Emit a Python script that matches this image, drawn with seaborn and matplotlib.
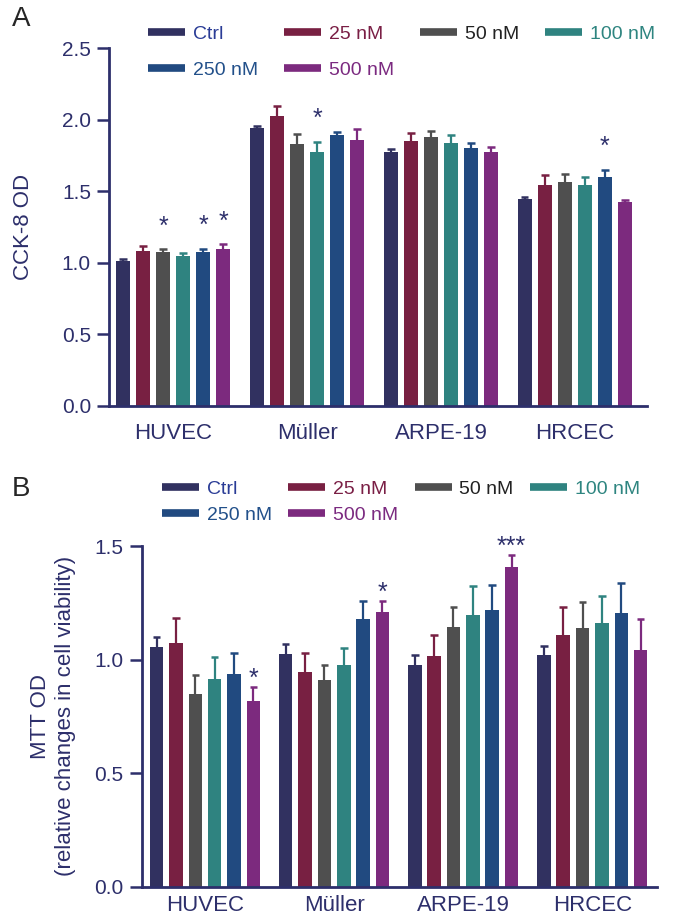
import matplotlib
matplotlib.use("Agg")
import matplotlib.pyplot as plt
import pandas as pd
import seaborn as sns
from matplotlib.lines import Line2D

# Data
cells = ["HUVEC", "Müller", "ARPE-19", "HRCEC"]
concs = ["Ctrl", "25 nM", "50 nM", "100 nM", "250 nM", "500 nM"]

# Panel A: CCK-8 OD (mean, upper SD) per cell line, ordered as concs
cck8_mean = [
    [1.014, 1.084, 1.077, 1.049, 1.077, 1.100],
    [1.942, 2.028, 1.830, 1.778, 1.893, 1.862],
    [1.774, 1.855, 1.879, 1.841, 1.806, 1.774],
    [1.445, 1.548, 1.566, 1.548, 1.599, 1.427],
]
cck8_err = [
    [0.016, 0.036, 0.019, 0.019, 0.021, 0.030],
    [0.018, 0.070, 0.070, 0.068, 0.025, 0.073],
    [0.026, 0.052, 0.046, 0.056, 0.031, 0.035],
    [0.019, 0.065, 0.056, 0.056, 0.053, 0.011],
]
cck8_sig = [
    ["", "", "*", "", "*", "*"],
    ["", "", "", "*", "", ""],
    ["", "", "", "", "", ""],
    ["", "", "", "", "*", ""],
]

# Panel B: MTT OD
mtt_mean = [
    [1.055, 1.075, 0.849, 0.914, 0.937, 0.818],
    [1.025, 0.944, 0.910, 0.978, 1.179, 1.211],
    [0.977, 1.016, 1.145, 1.197, 1.218, 1.408],
    [1.019, 1.110, 1.140, 1.159, 1.204, 1.044],
]
mtt_err = [
    [0.044, 0.107, 0.084, 0.099, 0.091, 0.063],
    [0.044, 0.084, 0.065, 0.074, 0.081, 0.048],
    [0.042, 0.090, 0.088, 0.125, 0.111, 0.053],
    [0.040, 0.121, 0.113, 0.120, 0.131, 0.135],
]
mtt_sig = [
    ["", "", "", "", "", "*"],
    ["", "", "", "", "", "*"],
    ["", "", "", "", "", "***"],
    ["", "", "", "", "", ""],
]

bar_colors = ["#313160", "#782042", "#4f4f4f", "#2f8380", "#214a80", "#7c2a7e"]
label_colors = ["#2a3c96", "#7a1f45", "#222222", "#2e8580", "#22508a", "#7b2a80"]
navy = "#2d2f6b"

sns.set_style("white")
plt.rcParams["font.family"] = ["Liberation Sans", "DejaVu Sans"]


def to_long(mean, err):
    rows = []
    for i, c in enumerate(cells):
        for j, k in enumerate(concs):
            rows.append({"cell": c, "conc": k, "value": mean[i][j], "err": err[i][j]})
    return pd.DataFrame(rows)


def draw_panel(ax, mean, err, sig, ylim, yticks, ylabel, star_off, xpad):
    df = to_long(mean, err)
    sns.barplot(data=df, x="cell", y="value", hue="conc", hue_order=concs,
                palette=bar_colors, saturation=1, width=0.9, gap=0.3,
                errorbar=None, legend=False, ax=ax, linewidth=0)
    bars = list(ax.containers)
    for j, cont in enumerate(bars):
        xs = [b.get_x() + b.get_width() / 2 for b in cont]
        ys = [b.get_height() for b in cont]
        half = cont[0].get_width() * 0.28
        up = [err[i][j] for i in range(len(cells))]
        tops = [y + u for y, u in zip(ys, up)]
        # upper-only SD bars
        ax.vlines(xs, ys, tops, color=bar_colors[j], lw=1.6, zorder=1)
        ax.hlines(tops, [x - half for x in xs], [x + half for x in xs],
                  color=bar_colors[j], lw=1.8, zorder=1)
        for i, (x, t) in enumerate(zip(xs, tops)):
            if sig[i][j]:
                ax.text(x, t + star_off, sig[i][j], ha="center",
                        va="baseline", fontsize=18, color=navy)
    ax.set_ylim(*ylim)
    ax.set_yticks(yticks)
    ax.set_yticklabels([f"{t:.1f}" for t in yticks])
    ax.set_xlabel("")
    ax.set_ylabel(ylabel, fontsize=16, color=navy, linespacing=1.25)
    sns.despine(ax=ax)
    for s in ["left", "bottom"]:
        ax.spines[s].set_color(navy)
        ax.spines[s].set_linewidth(2)
    ax.tick_params(axis="y", left=True, direction="out", length=9, width=1.8,
                   color=navy, labelcolor=navy, labelsize=15, pad=4)
    ax.tick_params(axis="x", bottom=False, length=0, labelcolor=navy,
                   labelsize=16, pad=xpad)


def add_legend(fig, x, y, colspace, rowspace):
    order = [0, 4, 1, 5, 2, 3]
    handles = [Line2D([], [], color=bar_colors[i], lw=5.5, solid_capstyle="butt")
               for i in order]
    labels = [concs[i] for i in order]
    leg = fig.legend(handles, labels, loc="upper left", bbox_to_anchor=(x, y),
                     ncol=4, frameon=False, fontsize=14, handlelength=1.9,
                     handletextpad=0.4, columnspacing=colspace,
                     labelspacing=rowspace, borderpad=0, borderaxespad=0)
    for t, i in zip(leg.get_texts(), order):
        t.set_color(label_colors[i])


fig = plt.figure(figsize=(6.75, 9.22), dpi=100)

axA = fig.add_axes([0.1615, 0.5597, 0.797, 0.3877])
draw_panel(axA, cck8_mean, cck8_err, cck8_sig, (0, 2.5),
           [0.0, 0.5, 1.0, 1.5, 2.0, 2.5], "CCK-8 OD", 0.11, 12)
axA.set_xlim(-0.48, 3.54)
axA.yaxis.set_label_coords(-0.14, 0.5)

axB = fig.add_axes([0.21, 0.0383, 0.763, 0.3695])
draw_panel(axB, mtt_mean, mtt_err, mtt_sig, (0, 1.5),
           [0.0, 0.5, 1.0, 1.5],
           "MTT OD\n(relative changes in cell viability)", 0.005, 6)
axB.set_xlim(-0.49, 3.5)
axB.yaxis.set_label_coords(-0.128, 0.5)

add_legend(fig, 148 / 675, 1 - 25 / 922, 1.34, 0.95)
add_legend(fig, 162 / 675, 1 - 480 / 922, 0.85, 0.45)

fig.text(0.018, 0.979, "A", fontsize=20, va="center", ha="left")
fig.text(0.018, 0.4696, "B", fontsize=20, va="center", ha="left")

fig.savefig("out.png", dpi=100)
